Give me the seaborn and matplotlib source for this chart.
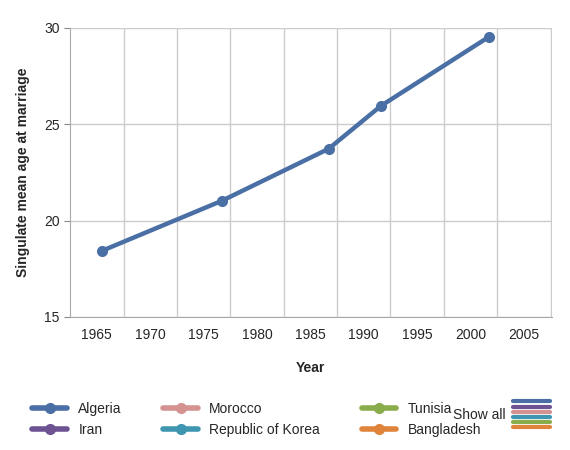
import matplotlib
matplotlib.use("Agg")
import matplotlib.pyplot as plt
import seaborn as sns
import pandas as pd
from matplotlib.lines import Line2D

years = [1965.5, 1976.7, 1986.7, 1991.6, 2001.7]
algeria = [18.43, 21.02, 23.72, 25.95, 29.53]
countries = ["Algeria", "Iran", "Morocco", "Republic of Korea", "Tunisia", "Bangladesh"]
colors = ["#4a6fa5", "#6d5391", "#d49391", "#3e96b0", "#8aac4b", "#e0843c"]
tick_years = [1965, 1970, 1975, 1980, 1985, 1990, 1995, 2000, 2005]

sns.set_style("white")
plt.rcParams['font.family'] = ['Liberation Sans', 'DejaVu Sans']

df = pd.DataFrame({"Year": years, "Age": algeria})
fig = plt.figure(figsize=(5.7, 4.5), dpi=100)
ax = fig.add_axes([0.123, 0.296, 0.845, 0.642])
sns.lineplot(data=df, x="Year", y="Age", ax=ax, color=colors[0], lw=3.2,
             marker="o", markersize=8, markeredgewidth=0)

ax.set_xlim(1962.5, 2007.6)
ax.set_ylim(15, 30)
ax.set_yticks([15, 20, 25, 30])
ax.set_xticks(tick_years)
ax.set_xticks([1967.5 + 5 * i for i in range(9)], minor=True)
ax.grid(False)
ax.grid(True, which="minor", axis="x", color="#cccccc", lw=1)
ax.grid(True, which="major", axis="y", color="#cccccc", lw=1)
ax.tick_params(axis="x", which="both", length=0, labelsize=10, pad=8)
ax.tick_params(axis="y", length=4, color="#888888", labelsize=10, left=True)
for s in ["top", "right"]:
    ax.spines[s].set_visible(False)
for s in ["left", "bottom"]:
    ax.spines[s].set_color("#aaaaaa")
ax.set_xlabel("Year", fontsize=10, fontweight="bold", labelpad=14)
ax.set_ylabel("Singulate mean age at marriage", fontsize=10, fontweight="bold", labelpad=10)

handles = [Line2D([0], [0], color=c, lw=4, marker="o", markersize=7) for c in colors]
fig.legend(handles, countries, ncol=3, loc="upper left", bbox_to_anchor=(0.035, 0.135),
           frameon=False, fontsize=10, handlelength=2.5, columnspacing=3.0, labelspacing=0.5)
fig.text(0.795, 0.077, "Show all", fontsize=10, va="center")
for i, c in enumerate(colors):
    fig.add_artist(Line2D([0.9, 0.965], [0.108 - i * 0.0115] * 2, color=c, lw=3,
                          solid_capstyle="round"))

fig.savefig("out.png", dpi=100)
